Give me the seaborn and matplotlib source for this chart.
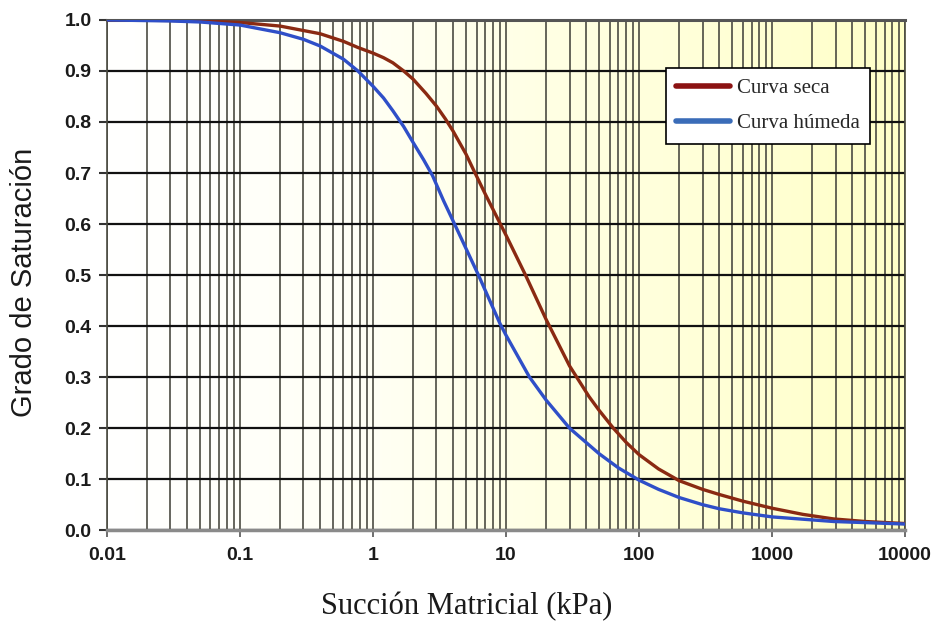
import numpy as np
import pandas as pd
import matplotlib
matplotlib.use("Agg")
import matplotlib.pyplot as plt
import seaborn as sns
from matplotlib.colors import LinearSegmentedColormap
from matplotlib.ticker import LogLocator, FixedLocator, FixedFormatter, NullFormatter

# ---- data ----
suction_dry = [0.01, 0.03, 0.05, 0.1, 0.2, 0.4, 0.6, 0.77, 1, 1.2, 1.41, 1.7, 2, 2.5, 3,
               3.5, 4, 5, 5.65, 7, 10, 14, 20, 30, 42, 50, 64, 80, 100, 140, 200, 300,
               400, 600, 1000, 1700, 2900, 5000, 10000]
sat_dry = [1.000, 0.999, 0.998, 0.995, 0.988, 0.973, 0.958, 0.946, 0.935, 0.926, 0.916,
           0.900, 0.884, 0.856, 0.831, 0.806, 0.782, 0.737, 0.708, 0.658, 0.578, 0.500,
           0.413, 0.322, 0.262, 0.235, 0.200, 0.172, 0.148, 0.120, 0.097, 0.080, 0.070,
           0.057, 0.043, 0.031, 0.022, 0.017, 0.013]

suction_wet = [0.01, 0.03, 0.05, 0.1, 0.2, 0.3, 0.4, 0.6, 0.77, 1, 1.2, 1.41, 1.7, 2, 2.4,
               2.8, 3.4, 4.1, 6.2, 9, 10, 15, 20, 30, 50, 70, 100, 140, 200, 300, 400,
               600, 1000, 2900, 10000]
sat_wet = [1.000, 0.998, 0.996, 0.990, 0.975, 0.962, 0.949, 0.923, 0.900, 0.870, 0.847,
           0.822, 0.791, 0.760, 0.726, 0.695, 0.645, 0.600, 0.500, 0.405, 0.382, 0.300,
           0.255, 0.200, 0.150, 0.122, 0.098, 0.080, 0.064, 0.050, 0.042, 0.034, 0.026,
           0.017, 0.012]

series_labels = ["Curva seca", "Curva húmeda"]
x_ticks = [0.01, 0.1, 1, 10, 100, 1000, 10000]
x_tick_labels = ["0.01", "0.1", "1", "10", "100", "1000", "10000"]
y_ticks = [0.0, 0.1, 0.2, 0.3, 0.4, 0.5, 0.6, 0.7, 0.8, 0.9, 1.0]
y_tick_labels = ["0.0", "0.1", "0.2", "0.3", "0.4", "0.5", "0.6", "0.7", "0.8", "0.9", "1.0"]
x_label = "Succión Matricial (kPa)"
y_label = "Grado de Saturación"

df = pd.concat([
    pd.DataFrame({"suction": suction_dry, "saturation": sat_dry, "curve": series_labels[0]}),
    pd.DataFrame({"suction": suction_wet, "saturation": sat_wet, "curve": series_labels[1]}),
], ignore_index=True)

sns.set_theme(style="white")
plt.rcParams["font.family"] = ["Liberation Sans", "DejaVu Sans"]

fig = plt.figure(figsize=(9.38, 6.23), dpi=100)
fig.patch.set_facecolor("white")
rect = [0.114, 0.149, 0.851, 0.819]

# background gradient (white -> pale yellow)
bg = fig.add_axes(rect, zorder=0)
cmap = LinearSegmentedColormap.from_list(
    "bgc", [(0.0, "#ffffff"), (0.3, "#fffff6"), (0.55, "#ffffe4"), (1.0, "#ffffc8")])
bg.imshow(np.linspace(0, 1, 256).reshape(1, -1), cmap=cmap, aspect="auto",
          extent=[0, 1, 0, 1])
bg.set_axis_off()

ax = fig.add_axes(rect, zorder=1)
ax.patch.set_alpha(0)

dry_color = "#8a2a12"
wet_color = "#2f4fc8"
sns.lineplot(data=df, x="suction", y="saturation", hue="curve",
             palette=[dry_color, wet_color], linewidth=2.4, estimator=None,
             sort=True, ax=ax, zorder=5)

ax.set_xscale("log")
ax.set_xlim(0.01, 10000)
ax.set_ylim(0, 1)

ax.xaxis.set_major_locator(FixedLocator(x_ticks))
ax.xaxis.set_major_formatter(FixedFormatter(x_tick_labels))
ax.xaxis.set_minor_locator(LogLocator(base=10, subs=np.arange(2, 10)))
ax.xaxis.set_minor_formatter(NullFormatter())
ax.yaxis.set_major_locator(FixedLocator(y_ticks))
ax.yaxis.set_major_formatter(FixedFormatter(y_tick_labels))

ax.grid(True, axis="x", which="both", color="#4b4b42", linewidth=1.2, zorder=1)
ax.grid(True, axis="y", which="major", color="#111111", linewidth=1.6, zorder=2)
ax.set_axisbelow(True)

for s in ["left", "right"]:
    ax.spines[s].set_color("#4b4b42")
    ax.spines[s].set_linewidth(1.2)
ax.spines["top"].set_color("#555555")
ax.spines["top"].set_linewidth(2.2)
ax.spines["bottom"].set_color("#8a8a8a")
ax.spines["bottom"].set_linewidth(2.5)

ax.tick_params(axis="x", which="major", direction="out", length=5, width=1.2,
               color="#555555", pad=7, bottom=True)
ax.tick_params(axis="x", which="minor", length=0)
ax.tick_params(axis="y", which="major", direction="out", length=6, width=1.5,
               color="#333333", pad=5, left=True)
for lbl in ax.get_xticklabels() + ax.get_yticklabels():
    lbl.set_fontsize(14)
    lbl.set_fontweight("bold")
    lbl.set_color("#1a1a1a")

ax.set_xlabel(x_label, family=["Liberation Serif", "DejaVu Serif"], fontsize=22,
              color="#1a1a1a")
ax.xaxis.set_label_coords(0.451, -0.122)
ax.set_ylabel(y_label, family=["Liberation Sans", "DejaVu Sans"], fontsize=21,
              color="#1a1a1a")
ax.yaxis.set_label_coords(-0.086, 0.486)

leg = ax.legend(loc="upper left", bbox_to_anchor=(0.70, 0.906), frameon=True,
                fancybox=False, framealpha=1, edgecolor="black",
                prop={"family": ["Liberation Serif", "DejaVu Serif"], "size": 15},
                handlelength=2.6, handletextpad=0.3, labelspacing=0.75,
                borderpad=0.5, borderaxespad=0, title=None)
leg.get_frame().set_linewidth(1.2)
leg_colors = ["#8b1212", "#3a6cb8"]
for h, c in zip(leg.get_lines(), leg_colors):
    h.set_color(c)
    h.set_linewidth(4)
leg.set_zorder(10)

fig.savefig("out.png", dpi=100)
